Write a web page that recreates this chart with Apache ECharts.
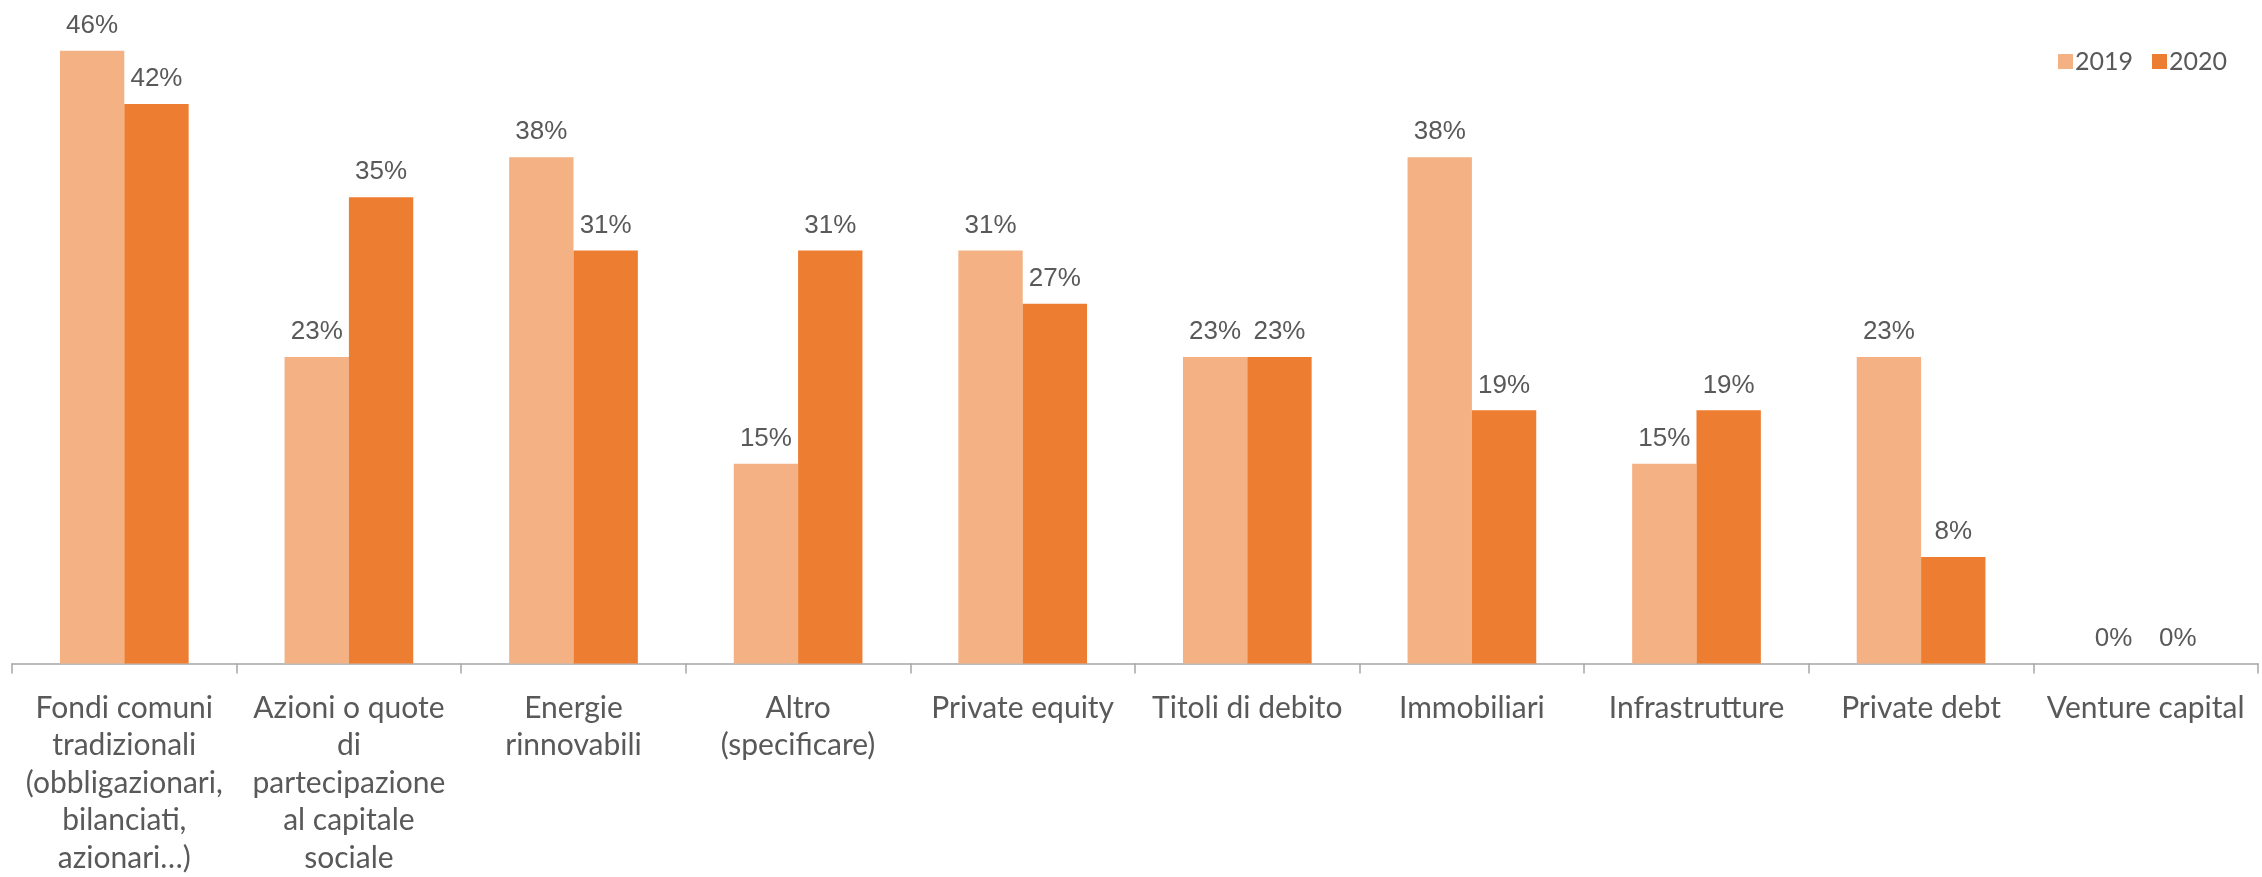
<!DOCTYPE html>
<html>
<head>
<meta charset="utf-8">
<script src="https://cdn.jsdelivr.net/npm/echarts@6/dist/echarts.min.js"></script>
<style>
  html, body { margin: 0; padding: 0; background: #ffffff; }
  #chart { width: 2262px; height: 877px; }
</style>
</head>
<body>
<div id="chart"></div>
<script>
// Asset categories (line breaks follow the wrapped axis labels)
const categories = [
  'Fondi comuni\ntradizionali\n(obbligazionari,\nbilanciati,\nazionari…)',
  'Azioni o quote\ndi\npartecipazione\nal capitale\nsociale',
  'Energie\nrinnovabili',
  'Altro\n(specificare)',
  'Private equity',
  'Titoli di debito',
  'Immobiliari',
  'Infrastrutture',
  'Private debt',
  'Venture capital'
];

// Share of respondents, percent
const seriesNames = ['2019', '2020'];
const values2019 = [46, 23, 38, 15, 31, 23, 38, 15, 23, 0];
const values2020 = [42, 35, 31, 31, 27, 23, 19, 19, 8, 0];

const colors = ['#F4B183', '#ED7D31'];
const textColor = '#595959';

const chart = echarts.init(document.getElementById('chart'), null, { renderer: 'canvas' });

const labelStyle = {
  show: true,
  position: 'top',
  distance: 12,
  formatter: '{c}%',
  color: textColor,
  fontFamily: '"Liberation Sans", Arial, sans-serif',
  fontSize: 26
};

chart.setOption({
  animation: false,
  backgroundColor: '#ffffff',
  legend: {
    data: seriesNames,
    right: 30,
    top: 44,
    itemWidth: 15,
    itemHeight: 15,
    itemGap: 19,
    icon: 'rect',
    textStyle: {
      color: textColor,
      fontFamily: 'Lato, sans-serif',
      fontSize: 25,
      padding: [0, 0, 0, -3]
    }
  },
  grid: {
    left: 12,
    right: 4,
    top: 24,
    height: 644,
    containLabel: false
  },
  xAxis: {
    type: 'category',
    data: categories,
    axisLine: { lineStyle: { color: '#A6A6A6', width: 1.5 } },
    axisTick: { show: true, length: 10, lineStyle: { color: '#A6A6A6', width: 1.5 } },
    axisLabel: {
      interval: 0,
      margin: 26,
      color: textColor,
      fontFamily: 'Lato, sans-serif',
      fontSize: 30,
      lineHeight: 37.5,
      align: 'center'
    }
  },
  yAxis: {
    type: 'value',
    min: 0,
    max: 48,
    show: false,
    splitLine: { show: false }
  },
  series: [
    {
      name: seriesNames[0],
      type: 'bar',
      data: values2019,
      barGap: '0%',
      barCategoryGap: '42.7%',
      itemStyle: { color: colors[0] },
      label: labelStyle
    },
    {
      name: seriesNames[1],
      type: 'bar',
      data: values2020,
      barGap: '0%',
      barCategoryGap: '42.7%',
      itemStyle: { color: colors[1] },
      label: labelStyle
    }
  ]
});
</script>
</body>
</html>
